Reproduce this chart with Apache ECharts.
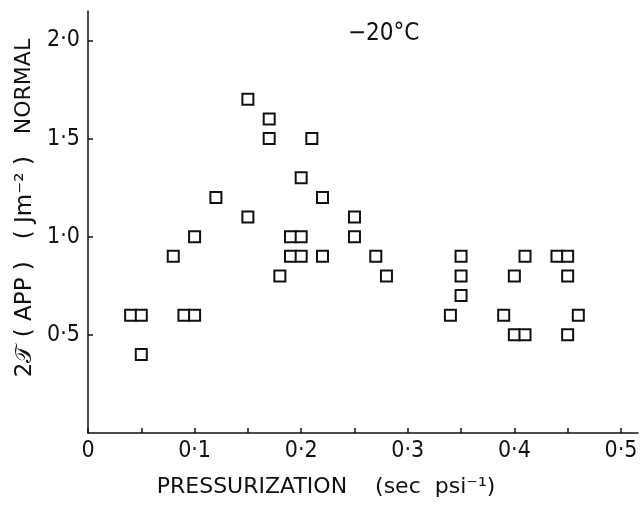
<!DOCTYPE html>
<html>
<head>
<meta charset="utf-8">
<script src="https://cdn.jsdelivr.net/npm/echarts@6/dist/echarts.min.js"></script>
<style>
  html, body { margin: 0; padding: 0; background: #fff; }
  #chart { width: 644px; height: 512px; }
</style>
</head>
<body>
<div id="chart"></div>
<script>
// pressurization (sec psi^-1) and normal 2T(APP) (J m^-2)
const pressurization = [
  0.04, 0.05, 0.05, 0.08, 0.09, 0.10, 0.10, 0.12, 0.15, 0.15,
  0.17, 0.17, 0.18, 0.19, 0.20, 0.19, 0.20, 0.20, 0.21, 0.22,
  0.22, 0.25, 0.25, 0.27, 0.28, 0.34, 0.35, 0.35, 0.35, 0.39,
  0.40, 0.40, 0.41, 0.41, 0.44, 0.45, 0.45, 0.45, 0.46
];
const energy = [
  0.6, 0.6, 0.4, 0.9, 0.6, 0.6, 1.0, 1.2, 1.7, 1.1,
  1.6, 1.5, 0.8, 1.0, 1.0, 0.9, 0.9, 1.3, 1.5, 1.2,
  0.9, 1.1, 1.0, 0.9, 0.8, 0.6, 0.9, 0.8, 0.7, 0.6,
  0.8, 0.5, 0.5, 0.9, 0.9, 0.9, 0.8, 0.5, 0.6
];
const xTicks = [0, 0.05, 0.1, 0.15, 0.2, 0.25, 0.3, 0.35, 0.4, 0.45, 0.5];
const xLabels = [0, 0.1, 0.2, 0.3, 0.4, 0.5];
const yTicks = [0.5, 1.0, 1.5, 2.0];

const narrow = '"DejaVu Sans Condensed", "Liberation Sans Narrow", "DejaVu Sans", sans-serif';
const wide = '"DejaVu Sans", sans-serif';
const ink = '#111';

function dotted(v) {
  if (v === 0) return '0';
  return v.toFixed(1).replace('.', '·');
}

const points = pressurization.map((x, i) => [x, energy[i]]);

const chart = echarts.init(document.getElementById('chart'));
chart.setOption({
  backgroundColor: '#fff',
  animation: false,
  grid: { left: 88, top: 11, right: 6, bottom: 79, containLabel: false, outerBoundsMode: 'none' },
  title: {
    text: '−20°C',
    left: 343,
    top: 17,
    textStyle: { fontFamily: narrow, fontSize: 24, fontWeight: 'normal', color: ink }
  },
  xAxis: {
    type: 'value',
    min: 0,
    max: 0.516,
    name: 'PRESSURIZATION    (sec  psi⁻¹)',
    nameLocation: 'middle',
    nameGap: 43,
    nameTextStyle: { fontFamily: wide, fontSize: 22, color: ink, padding: [0, 74, 0, 0] },
    splitLine: { show: false },
    axisLine: { lineStyle: { color: ink, width: 1.5 } },
    axisTick: { inside: true, length: 5, customValues: xTicks, lineStyle: { color: ink, width: 1.5 } },
    axisLabel: {
      customValues: xLabels,
      fontFamily: narrow, fontSize: 23, color: ink, margin: 7,
      formatter: dotted
    }
  },
  yAxis: {
    type: 'value',
    min: 0,
    max: 2.15,
    name: '{a|2𝒯 ( APP )   ( Jm⁻² )   }{b|NORMAL}',
    nameLocation: 'middle',
    nameRotate: 90,
    nameGap: 46,
    nameTextStyle: {
      color: ink,
      padding: [0, 0, 0, 28],
      rich: {
        a: { fontFamily: wide, fontSize: 23, color: ink },
        b: { fontFamily: wide, fontSize: 22, color: ink }
      }
    },
    splitLine: { show: false },
    axisLine: { lineStyle: { color: ink, width: 1.5 } },
    axisTick: { inside: true, length: 5, customValues: yTicks, lineStyle: { color: ink, width: 1.5 } },
    axisLabel: {
      customValues: yTicks,
      fontFamily: narrow, fontSize: 23, color: ink, margin: 8,
      formatter: dotted
    }
  },
  series: [{
    type: 'scatter',
    data: points,
    symbol: 'rect',
    symbolSize: 11,
    itemStyle: { color: '#fff', borderColor: ink, borderWidth: 2, opacity: 1 }
  }]
});
</script>
</body>
</html>
